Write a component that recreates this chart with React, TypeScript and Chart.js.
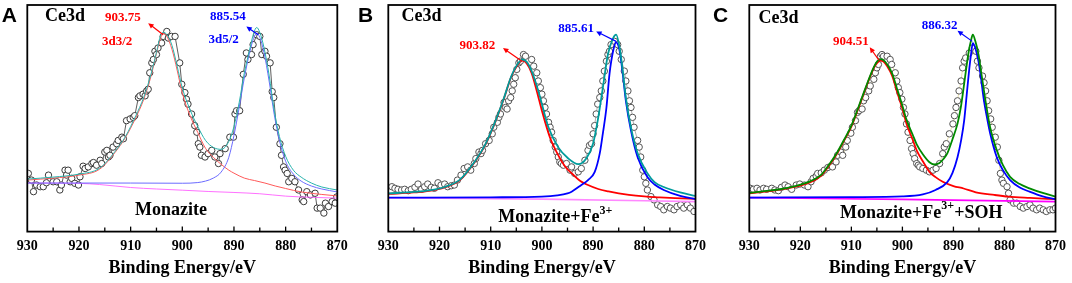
import React, { useEffect, useRef } from "react";
import { Chart, registerables } from "chart.js";
Chart.register(...registerables);

const SERIF = '"Liberation Serif", "Times New Roman", Times, serif';
const SANS = '"Liberation Sans", Arial, Helvetica, sans-serif';

type Pair = [number, number];

const X_MIN = 870;
const X_MAX = 930;
const MINOR_TICKS = [925, 920, 915, 910, 905, 900, 895, 890, 885, 880, 875];
const AXIS_TITLE = "Binding Energy/eV";

// ---------------- Panel A (Monazite) ----------------
const A_SCAN: Pair[] = [
  [929.8, 58.7], [929.2, 52], [928.8, 40.3], [928.2, 47], [927.5, 45.3], [926.9, 45.3], [926.3, 49.3],
  [925.9, 57], [925.0, 50.3], [924.3, 50.3], [923.7, 42], [923.4, 47], [922.7, 62], [922.4, 57],
  [922.1, 62], [921.7, 50.3], [921.4, 53.7], [920.8, 48.7], [920.1, 47], [919.8, 55.3], [919.2, 66],
  [918.8, 63.7], [918.2, 65.3], [917.5, 68.7], [917.2, 69.7], [916.6, 67], [915.9, 72], [915.6, 68.7],
  [915.0, 80.3], [914.6, 82], [914.3, 75.3], [914.0, 77], [913.4, 85.3], [912.7, 88.7], [912.4, 92],
  [911.7, 95.3], [911.4, 93.7], [910.8, 112], [910.1, 113.7], [909.5, 115.3], [909.2, 117], [908.5, 135.3],
  [908.2, 137], [907.6, 138.7], [907.2, 137], [906.9, 142], [906.6, 143.7], [906.3, 160.3], [905.9, 170.3],
  [905.6, 173.7], [905.3, 182], [905.0, 178.7], [904.7, 185.3], [904.0, 190.3], [903.7, 197], [903.0, 202],
  [902.7, 195.3], [902.1, 197], [901.4, 197], [900.5, 170.3], [900.1, 148.7], [899.5, 140.3], [899.2, 133.7],
  [898.9, 128.7], [898.2, 118.7], [897.6, 107], [897.2, 100.3], [896.9, 88.7], [896.6, 85.3], [896.3, 77],
  [895.6, 75.3], [895.0, 78.7], [894.3, 82], [893.7, 75.3], [893.0, 68.7], [892.7, 78.7], [891.7, 83.7],
  [890.8, 95.3], [890.1, 95.3], [889.8, 118.7], [889.5, 122], [888.9, 122], [888.2, 158.7], [887.6, 180.3],
  [887.3, 173.7], [886.6, 178.7], [886.3, 188.7], [885.6, 198.7], [885.0, 197], [884.6, 178.7], [884.0, 182],
  [883.7, 177], [883.0, 170.3], [882.6, 141.3], [882.3, 135.3], [881.8, 105.3], [881.1, 88.7], [880.8, 77],
  [880.4, 65.3], [880.1, 62], [879.7, 58.7], [879.4, 50.3], [878.8, 53.7], [878.2, 50.3], [877.5, 42],
  [876.8, 32], [876.5, 30.3], [875.9, 40.3], [875.2, 37], [874.3, 38.7], [873.9, 23.7], [873.3, 23.7],
  [872.6, 18.7], [872.3, 28.7], [871.7, 25.3], [871.0, 30.3], [870.4, 28.7], [870.1, 35],
];
const A_RED: Pair[] = [
  [930, 52], [925, 54], [920, 57], [916, 63], [913, 80], [911, 95], [909, 115], [907.5, 133], [906, 158],
  [905, 180], [904.2, 195], [903.7, 200], [903, 197], [902, 184], [901, 163], [900, 140], [898.5, 117],
  [897, 100], [895.5, 84], [894, 75], [892.5, 68], [891, 62], [890, 59], [888, 54], [886, 51.5],
  [884, 49], [882, 46], [880, 43.5], [877, 40], [873, 37.5], [870, 36],
];
const A_BLUE: Pair[] = [
  [930, 49], [920, 49], [910, 49], [900, 48.8], [897, 49.5], [895.5, 51], [894, 54], [892.5, 60], [891, 75],
  [890, 97], [889, 125], [888, 155], [887, 180], [886.2, 195], [885.6, 200], [885, 196], [884.2, 181],
  [883.2, 152], [882.2, 118], [881.2, 92], [880, 71], [878.5, 58], [877, 51], [875, 46], [873, 43], [870, 40],
];
const A_ENV: Pair[] = [
  [930, 53], [925, 55], [920, 58], [916, 64], [913, 81], [911, 96], [909, 117], [907.5, 135], [906, 160],
  [905, 181], [904.2, 198], [903.7, 201], [903, 199], [902, 188], [901, 167], [900, 145], [898.5, 123],
  [897, 106], [895.5, 92], [894, 85], [892.5, 83], [891, 91], [890, 106], [889, 130], [888, 160], [887, 183],
  [886.2, 200], [885.6, 206], [885, 201], [884.2, 186], [883.2, 158], [882.2, 122], [881.2, 96], [880, 76],
  [878.5, 62], [877, 55], [875, 49], [873, 45], [870, 42],
];
const A_BG: Pair[] = [
  [930, 49], [920, 48.7], [916, 47.5], [913, 46], [910, 44.5], [905, 43], [900, 41.8], [895, 40.5],
  [890, 39.5], [885, 38.2], [880, 35.8], [875, 34.6], [870, 33.8],
];

// ---------------- Panel B (Monazite+Fe3+) ----------------
const B_SCAN: Pair[] = [
  [929.3, 45.3], [928.7, 43.7], [928.1, 42.7], [927.4, 42], [926.8, 42.7], [926.1, 41.3], [925.5, 42.7],
  [924.8, 44.7], [924.2, 48], [923.5, 42.7], [922.9, 45.3], [922.3, 48], [921.6, 44.7], [921.0, 43.7],
  [920.3, 49.3], [919.7, 47], [919.0, 48], [918.4, 45.3], [917.7, 46.3], [917.1, 47], [916.5, 52],
  [915.8, 57], [915.2, 63.7], [914.5, 65.3], [913.9, 62], [913.2, 68.7], [912.9, 73.7], [912.3, 80.3],
  [911.9, 78.7], [911.6, 82], [911.0, 88.7], [910.3, 92], [909.7, 98.7], [909.4, 105.3], [908.7, 110.3],
  [908.4, 115.3], [908.1, 118.7], [907.4, 130.3], [907.1, 125.3], [906.8, 123.7], [906.5, 132], [906.1, 135.3],
  [905.8, 142], [905.5, 148.7], [905.2, 155.3], [904.9, 163.7], [904.5, 170.3], [904.2, 172], [903.6, 178.7],
  [903.2, 177], [902.0, 173.7], [901.6, 167], [901.0, 160.3], [900.7, 152], [900.3, 145.3], [900.0, 138.7],
  [899.7, 132], [899.4, 125.3], [899.1, 118.7], [898.7, 110.3], [898.4, 105.3], [898.1, 100.3], [897.8, 92],
  [897.4, 85.3], [897.1, 80.3], [896.8, 75.3], [896.5, 70.3], [896.2, 68.7], [895.8, 67], [895.2, 68.7],
  [894.5, 62], [894.2, 65.3], [893.6, 58.7], [892.9, 60.3], [892.3, 63.7], [891.6, 72], [891.0, 82],
  [890.7, 87], [890.3, 88.7], [890.0, 98.7], [889.7, 107], [889.4, 118.7], [889.1, 128.7], [888.7, 135.3],
  [888.4, 142], [888.1, 152], [887.8, 162], [887.4, 172], [887.1, 178.7], [886.8, 182], [886.5, 188.7],
  [885.8, 192], [885.2, 188.7], [884.9, 182], [884.5, 173.7], [883.9, 162], [883.6, 152], [883.2, 142],
  [882.9, 132], [882.6, 125.3], [882.3, 115.3], [882.0, 105.3], [881.3, 92], [881.0, 85.3], [880.7, 75.3],
  [880.3, 62], [880.0, 55.3], [879.7, 48.7], [879.4, 42], [878.7, 35.3], [878.1, 32], [877.4, 27],
  [876.8, 25.3], [876.2, 22], [875.5, 25.3], [874.9, 23.7], [874.2, 22], [873.6, 25.3], [872.9, 27],
  [872.3, 23.7], [871.6, 27], [871.0, 23.7], [870.3, 20.3],
];
const B_RED: Pair[] = [
  [930, 38], [925, 39.5], [922, 41], [919, 44.5], [916, 52], [913, 71], [911, 88], [909, 112], [907.5, 133],
  [906, 156], [905, 166], [904.2, 171.5], [903.8, 172.7], [903, 170], [902, 160], [901, 142], [900, 122],
  [898.5, 96], [897, 79], [895.5, 66], [894, 58], [892.5, 51], [891, 47], [889, 43], [887, 40.5],
  [885, 38.5], [883, 37], [880, 35.5], [877, 34.5], [874, 33.7], [870, 33],
];
const B_BLUE: Pair[] = [
  [930, 34.3], [910, 34.6], [900, 35.3], [897, 36.5], [895, 38.5], [894.2, 40.3], [892.3, 47], [891, 52],
  [889.7, 60], [888.7, 79], [888.1, 99], [887.4, 125], [886.8, 159], [886.1, 182], [885.5, 191], [884.8, 182],
  [884.2, 159], [883.6, 132], [882.6, 102], [881.3, 75], [879.4, 55], [878, 47.5], [876.2, 42], [873, 36],
  [870, 32.7],
];
const B_ENV: Pair[] = [
  [930, 38.5], [925, 40], [922, 41.5], [919, 45], [916, 52.5], [913, 71.5], [911, 88.5], [909, 112.5],
  [907.5, 133.5], [906, 156.5], [905, 167], [904.2, 172.5], [903.8, 173.7], [903, 171.5], [902, 162],
  [900.7, 142], [898.7, 105], [896.8, 85], [894.9, 74], [892.9, 68], [891.3, 74], [890, 89], [889.1, 112],
  [888.1, 145], [887.1, 179], [886.1, 195], [885.5, 198.7], [884.8, 185], [884.2, 162], [883.6, 135],
  [882.6, 105], [881.3, 79], [879.4, 59], [878, 50], [876.2, 45], [873, 39.5], [870, 36],
];
const B_BG: Pair[] = [[930, 34], [900, 32.8], [870, 30.3]];

// ---------------- Panel C (Monazite+Fe3++SOH) ----------------
const C_SCAN: Pair[] = [
  [929.8, 43.7], [929.2, 42.7], [928.5, 43.7], [927.9, 42], [927.2, 43.7], [926.6, 42.7], [925.6, 43.7],
  [925.0, 42], [924.3, 41.3], [923.7, 44.7], [923.0, 47], [922.4, 45.3], [921.7, 42.7], [920.8, 47],
  [920.1, 48], [919.2, 47], [918.5, 45.3], [917.9, 50.3], [917.5, 53.7], [916.9, 56], [916.6, 58.7],
  [915.9, 59.3], [915.3, 62], [914.6, 64.7], [914.0, 66], [913.7, 65.3], [913.0, 70.3], [912.7, 77],
  [912.1, 80.3], [911.7, 77], [911.1, 85.3], [910.8, 92], [910.1, 99.3], [909.8, 105.3], [909.2, 112],
  [908.8, 120.3], [908.5, 122], [907.9, 123.7], [907.6, 132], [907.2, 135.3], [906.6, 142], [906.3, 147],
  [905.6, 153.7], [905.3, 160.3], [905.0, 165.3], [904.7, 168.7], [904.3, 177], [904.0, 178.7], [903.7, 177],
  [903.0, 177], [902.4, 173.7], [902.1, 168.7], [901.4, 160.3], [901.1, 152], [900.8, 145.3], [900.5, 140.3],
  [900.1, 133.7], [899.8, 125.3], [899.5, 118.7], [899.2, 108.7], [898.9, 100.3], [898.5, 92], [898.2, 83.7],
  [897.9, 78.7], [897.6, 73.7], [897.2, 68.7], [896.9, 67], [896.6, 65.3], [896.0, 63.7], [895.3, 62],
  [894.7, 60.3], [894.0, 62], [893.4, 63.7], [892.7, 68.7], [892.1, 78.7], [891.8, 85.3], [891.4, 88.7],
  [890.8, 98.7], [890.1, 108.7], [889.8, 117], [889.5, 125.3], [889.2, 132], [888.9, 142], [888.5, 152],
  [888.2, 165.3], [887.9, 172], [887.6, 175.3], [886.9, 180.3], [886.3, 185.3], [885.6, 182], [885.3, 172],
  [885.0, 165.3], [884.3, 157], [884.0, 150.3], [883.7, 142], [883.4, 132], [883.1, 122], [882.7, 113.7],
  [882.4, 105.3], [881.8, 95.3], [881.4, 85.3], [881.1, 72], [880.8, 58.7], [880.5, 52], [880.2, 48.7],
  [879.5, 45.3], [879.2, 38.7], [878.9, 32], [878.2, 28.7], [877.6, 28.7], [876.9, 25.3], [876.3, 23.7],
  [875.6, 25.3], [875.0, 27], [874.4, 23.7], [873.7, 22], [873.1, 23.7], [872.4, 22], [871.8, 20.3],
  [871.1, 22], [870.5, 22], [870.0, 23.7],
];
const C_RED: Pair[] = [
  [930, 38.7], [927, 40.3], [924.3, 42], [921, 45.3], [918, 50], [916, 56], [914.6, 65], [913, 77],
  [911.4, 92], [910, 106], [908.8, 122], [907.8, 136], [906.9, 148.7], [905.6, 165], [904.9, 170.5],
  [904.3, 172.7], [903.7, 171.5], [903, 167], [902, 157], [901.1, 142], [900, 124], [899.2, 109], [898, 93],
  [897.2, 82], [896, 71], [894.7, 60.3], [893.5, 55], [892.1, 50.3], [890, 46], [888, 43.5], [885.6, 39.7],
  [882, 37], [879.2, 35.3], [875, 34], [870, 32.7],
];
const C_BLUE: Pair[] = [
  [930, 34.3], [910, 34.8], [900, 35.5], [896, 37.5], [893.5, 42], [891.2, 50], [890.2, 59], [889.2, 75],
  [888.5, 92], [887.9, 112], [887.4, 138], [887, 159], [886.6, 177], [886.2, 190.3], [885.7, 185],
  [885.1, 172], [884.6, 155], [884.1, 135], [883.5, 117], [882.8, 99], [881.5, 75], [880.3, 62], [878.9, 52],
  [877, 44.5], [875.1, 40.3], [872.5, 35.5], [870, 32.7],
];
const C_ENV: Pair[] = [
  [930, 39], [927, 40.8], [924.3, 42.5], [921, 46], [918, 51], [916, 57], [914.6, 66], [913, 78],
  [911.4, 93], [910, 107], [908.8, 123], [907.8, 137], [906.9, 149.5], [905.6, 166], [904.9, 172],
  [904.3, 174], [903.7, 173], [903, 169], [902, 159.5], [901.1, 145], [900, 127], [899.2, 113], [898, 98],
  [897.2, 88], [896, 78], [894.7, 70], [893.8, 67.7], [892.8, 69], [892, 73], [891.2, 79], [890.2, 93],
  [889.2, 109], [888.5, 127], [887.9, 149], [887.4, 168], [887, 182], [886.6, 192], [886.2, 198.7],
  [885.7, 192], [885.1, 179], [884.6, 162], [884.1, 145], [883.5, 125], [882.8, 105], [881.5, 82],
  [880.3, 67], [878.9, 55.3], [877, 48], [875.1, 43.7], [872.5, 39], [870, 35.3],
];
const C_BG: Pair[] = [[930, 34.3], [900, 32.5], [870, 30.3]];

// ---------------- text content ----------------
const PANEL_LETTERS = ["A", "B", "C"];
const CORE_LEVEL = "Ce3d";
const A_PEAKS = ["903.75", "885.54"];
const A_ORBITALS = ["3d3/2", "3d5/2"];
const B_PEAKS = ["903.82", "885.61"];
const C_PEAKS = ["904.51", "886.32"];

type Seg = [string, boolean];
type TextSpec = { segs: Seg[]; e: number; v: number; color: string; size: number };
type ArrowSpec = { from: Pair; to: Pair; color: string };
type PanelSpec = {
  left: number; width: number; padLeft: number; padRight: number; letter: string; letterDx: number;
  scan: Pair[]; red: Pair[]; blue: Pair[]; env: Pair[]; bg: Pair[];
  scanLine: string; scanPoint: string; redC: string; blueC: string; envC: string; bgC: string; lw: number;
  texts: TextSpec[]; arrows: ArrowSpec[];
};

const RED = "#ff0000";
const BLUE = "#0000ff";

const PANELS: PanelSpec[] = [
  {
    left: 0, width: 355, padLeft: 27.3, padRight: 17.7, letter: PANEL_LETTERS[0], letterDx: 25.5,
    scan: A_SCAN, red: A_RED, blue: A_BLUE, env: A_ENV, bg: A_BG,
    scanLine: "#333333", scanPoint: "#3a3a3a", redC: "#ff5a5a", blueC: "#6b6bff", envC: "#2ab3ad", bgC: "#ff60ff", lw: 1,
    texts: [
      { segs: [[CORE_LEVEL, false]], e: 922.7, v: 217, color: "#000", size: 18 },
      { segs: [[A_PEAKS[0], false]], e: 911.5, v: 216, color: RED, size: 13 },
      { segs: [[A_ORBITALS[0], false]], e: 912.6, v: 192, color: RED, size: 13 },
      { segs: [[A_PEAKS[1], false]], e: 891.2, v: 217, color: BLUE, size: 13 },
      { segs: [[A_ORBITALS[1], false]], e: 892.0, v: 194, color: BLUE, size: 13 },
      { segs: [["Monazite", false]], e: 902.2, v: 21, color: "#000", size: 18 },
    ],
    arrows: [
      { from: [903.7, 198.7], to: [906.6, 210.3], color: RED },
      { from: [885.3, 198.7], to: [887.6, 207], color: BLUE },
    ],
  },
  {
    left: 356, width: 356, padLeft: 32.3, padRight: 13.7, letter: PANEL_LETTERS[1], letterDx: 30.3,
    scan: B_SCAN, red: B_RED, blue: B_BLUE, env: B_ENV, bg: B_BG,
    scanLine: "#9a9a9a", scanPoint: "#555555", redC: RED, blueC: BLUE, envC: "#009c9c", bgC: "#ff88ff", lw: 1.8,
    texts: [
      { segs: [[CORE_LEVEL, false]], e: 923.5, v: 217, color: "#000", size: 18 },
      { segs: [[B_PEAKS[0], false]], e: 912.6, v: 188, color: RED, size: 13 },
      { segs: [[B_PEAKS[1], false]], e: 893.3, v: 205, color: BLUE, size: 13 },
      { segs: [["Monazite+Fe", false], ["3+", true]], e: 897.4, v: 14, color: "#000", size: 18 },
    ],
    arrows: [
      { from: [903.9, 172], to: [907.6, 185.3], color: RED },
      { from: [885.5, 192], to: [889.4, 202], color: BLUE },
    ],
  },
  {
    left: 712, width: 360, padLeft: 37.3, padRight: 12.7, letter: PANEL_LETTERS[2], letterDx: 36.3,
    scan: C_SCAN, red: C_RED, blue: C_BLUE, env: C_ENV, bg: C_BG,
    scanLine: "#e2d898", scanPoint: "#555555", redC: RED, blueC: BLUE, envC: "#008a00", bgC: "#ff00ff", lw: 1.8,
    texts: [
      { segs: [[CORE_LEVEL, false]], e: 924.3, v: 215.3, color: "#000", size: 18 },
      { segs: [[C_PEAKS[0], false]], e: 910.1, v: 192, color: RED, size: 13 },
      { segs: [[C_PEAKS[1], false]], e: 892.7, v: 208, color: BLUE, size: 13 },
      { segs: [["Monazite+Fe", false], ["3+", true], ["+SOH", false]], e: 896.3, v: 18.7, color: "#000", size: 18 },
    ],
    arrows: [
      { from: [904.6, 173], to: [906.4, 186], color: RED },
      { from: [886.3, 192], to: [889.2, 202.7], color: BLUE },
    ],
  },
];

const toXY = (p: Pair[]) => p.map(([x, y]) => ({ x, y }));

function drawArrow(ctx: CanvasRenderingContext2D, x1: number, y1: number, x2: number, y2: number, color: string) {
  const ang = Math.atan2(y2 - y1, x2 - x1);
  const h = 6;
  ctx.save();
  ctx.strokeStyle = color;
  ctx.fillStyle = color;
  ctx.lineWidth = 1.2;
  ctx.beginPath();
  ctx.moveTo(x1, y1);
  ctx.lineTo(x2 - Math.cos(ang) * h * 0.7, y2 - Math.sin(ang) * h * 0.7);
  ctx.stroke();
  ctx.beginPath();
  ctx.moveTo(x2, y2);
  ctx.lineTo(x2 - h * Math.cos(ang - 0.45), y2 - h * Math.sin(ang - 0.45));
  ctx.lineTo(x2 - h * Math.cos(ang + 0.45), y2 - h * Math.sin(ang + 0.45));
  ctx.closePath();
  ctx.fill();
  ctx.restore();
}

function drawSegs(ctx: CanvasRenderingContext2D, t: TextSpec, cx: number, cy: number) {
  const main = `bold ${t.size}px ${SERIF}`;
  const sup = `bold ${Math.round(t.size * 0.68)}px ${SERIF}`;
  const widths = t.segs.map(([s, isSup]) => {
    ctx.font = isSup ? sup : main;
    return ctx.measureText(s).width;
  });
  const total = widths.reduce((a, b) => a + b, 0);
  let x = cx - total / 2;
  ctx.fillStyle = t.color;
  ctx.textAlign = "left";
  ctx.textBaseline = "middle";
  t.segs.forEach(([s, isSup], i) => {
    ctx.font = isSup ? sup : main;
    ctx.fillText(s, x, isSup ? cy - t.size * 0.38 : cy);
    x += widths[i];
  });
}

function makeDecor(spec: PanelSpec) {
  return {
    id: "decor" + spec.letter,
    afterDraw(chart: any) {
      const ctx: CanvasRenderingContext2D = chart.ctx;
      const { left, right, top, bottom } = chart.chartArea;
      const xs = chart.scales.x;
      const ys = chart.scales.y;
      ctx.save();
      ctx.strokeStyle = "#000";
      ctx.lineWidth = 1.3;
      MINOR_TICKS.forEach((v) => {
        const px = xs.getPixelForValue(v);
        const len = v % 10 === 0 ? 5 : 4;
        ctx.beginPath();
        ctx.moveTo(px, bottom);
        ctx.lineTo(px, bottom - len);
        ctx.stroke();
      });
      ctx.lineWidth = 1.8;
      ctx.strokeRect(left, top, right - left, bottom - top);
      spec.arrows.forEach((a) => {
        drawArrow(
          ctx,
          xs.getPixelForValue(a.from[0]), ys.getPixelForValue(a.from[1]),
          xs.getPixelForValue(a.to[0]), ys.getPixelForValue(a.to[1]),
          a.color
        );
      });
      spec.texts.forEach((t) => drawSegs(ctx, t, xs.getPixelForValue(t.e), ys.getPixelForValue(t.v)));
      ctx.font = `bold 21px ${SANS}`;
      ctx.fillStyle = "#000";
      ctx.textAlign = "left";
      ctx.textBaseline = "alphabetic";
      ctx.fillText(spec.letter, left - spec.letterDx, 22);
      ctx.restore();
    },
  };
}

function Panel({ spec }: { spec: PanelSpec }) {
  const ref = useRef<HTMLCanvasElement>(null);
  useEffect(() => {
    if (!ref.current) return;
    const curve = (data: Pair[], color: string, w: number) => ({
      data: toXY(data),
      showLine: true,
      borderColor: color,
      backgroundColor: color,
      borderWidth: w,
      pointRadius: 0,
      cubicInterpolationMode: "monotone" as const,
      fill: false,
    });
    const chart = new Chart(ref.current, {
      type: "scatter",
      data: {
        datasets: [
          curve(spec.env, spec.envC, spec.lw),
          curve(spec.blue, spec.blueC, spec.lw),
          curve(spec.red, spec.redC, spec.lw),
          curve(spec.bg, spec.bgC, spec.lw * 0.9),
          {
            data: toXY(spec.scan),
            showLine: true,
            borderColor: spec.scanLine,
            borderWidth: 0.8,
            tension: 0,
            pointRadius: 3.2,
            pointBorderWidth: 1,
            pointBorderColor: spec.scanPoint,
            pointBackgroundColor: "#ffffff",
          },
        ],
      },
      options: {
        animation: false,
        responsive: false,
        devicePixelRatio: 1,
        events: [],
        layout: { padding: { left: spec.padLeft, right: spec.padRight, top: 3.3, bottom: 0 } },
        plugins: { legend: { display: false }, tooltip: { enabled: false } },
        scales: {
          x: {
            type: "linear",
            min: X_MIN,
            max: X_MAX,
            reverse: true,
            grid: { display: false, drawTicks: false },
            border: { display: false },
            ticks: {
              stepSize: 10,
              padding: 6,
              color: "#000",
              font: { family: SERIF, size: 14, weight: "bold" },
            },
            title: {
              display: true,
              text: AXIS_TITLE,
              color: "#000",
              font: { family: SERIF, size: 18, weight: "bold" },
              padding: { top: -3, bottom: 4 },
            },
          },
          y: { display: false, min: 0, max: 228.7 },
        },
      },
      plugins: [makeDecor(spec)],
    } as any);
    return () => chart.destroy();
  }, [spec]);
  return (
    <canvas
      ref={ref}
      width={spec.width}
      height={283}
      style={{ position: "absolute", left: spec.left, top: 0, width: spec.width, height: 283, display: "block" }}
    />
  );
}

export default function App() {
  return (
    <div style={{ position: "fixed", left: 0, top: 0, width: 1072, height: 283, background: "#ffffff", overflow: "hidden" }}>
      {PANELS.map((p) => (
        <Panel key={p.letter} spec={p} />
      ))}
    </div>
  );
}
